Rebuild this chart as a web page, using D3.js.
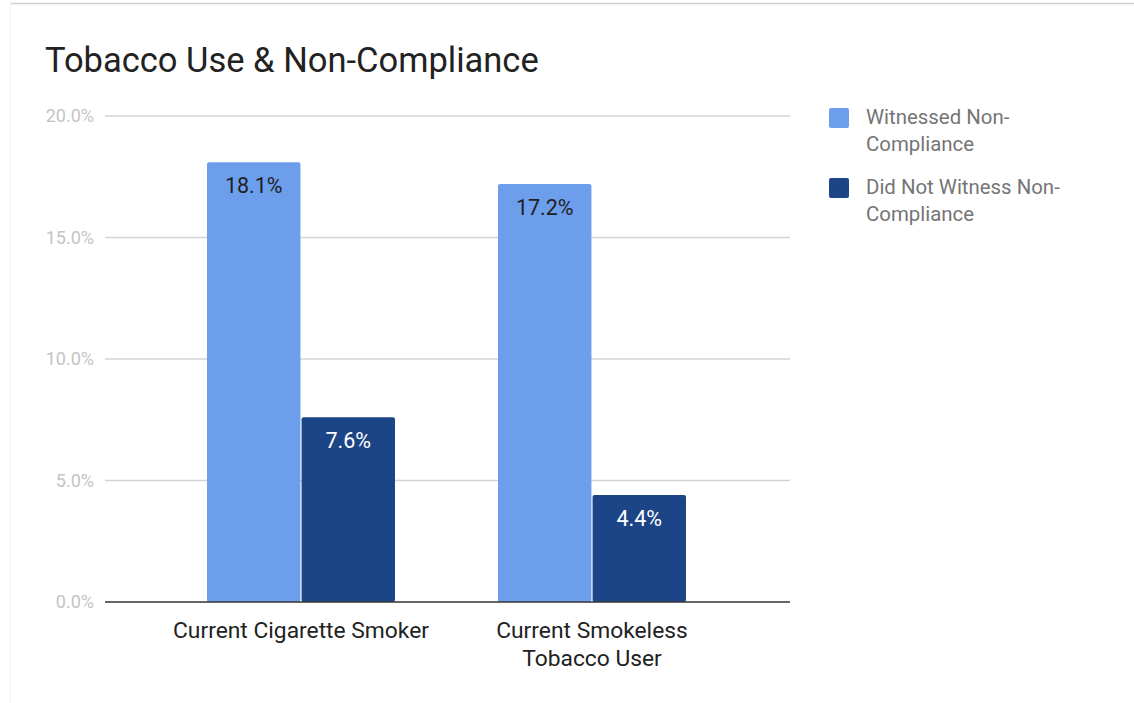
<!DOCTYPE html>
<meta charset="utf-8">
<script src="https://d3js.org/d3.v7.min.js"></script>
<style>
  body { margin: 0; background: #fff; }
  text { font-family: Roboto, "Noto Sans", sans-serif; }
</style>
<div id="chart"></div>
<script>

// data
var categories = [["Current Cigarette Smoker"], ["Current Smokeless", "Tobacco User"]];
var seriesNames = ["Witnessed Non-Compliance", "Did Not Witness Non-Compliance"];
var legendLines = [["Witnessed Non-", "Compliance"], ["Did Not Witness Non-", "Compliance"]];
var witnessed = [18.1, 17.2];
var notWitnessed = [7.6, 4.4];
var yTicks = [0, 5, 10, 15, 20];

var colors = ["#6d9eeb", "#1c4587"];
var labelColors = ["#1f1f1f", "#ffffff"];

var W = 1134, H = 703;
var plot = {left: 105, right: 790, top: 116, bottom: 602};

var svg = d3.select("#chart")
  .append("svg")
    .attr("width", W)
    .attr("height", H);

// card border
svg.append("line")
  .attr("x1", 10).attr("x2", W).attr("y1", 3.5).attr("y2", 3.5)
  .attr("stroke", "#cfcfcf").attr("stroke-width", 1.5);
svg.append("line")
  .attr("x1", 10.5).attr("x2", 10.5).attr("y1", 3).attr("y2", H)
  .attr("stroke", "#f2f2f2");

// title
svg.append("text")
  .attr("x", 45)
  .attr("y", 72)
  .style("font-size", "34.5px")
  .style("fill", "#222")
  .text("Tobacco Use & Non-Compliance");

var y = d3.scaleLinear()
  .domain([0, 20])
  .range([plot.bottom, plot.top]);

var x0 = d3.scaleBand()
  .domain(d3.range(categories.length))
  .range([plot.left - 1, plot.right - 1])
  .padding(0.354);

var x1 = d3.scaleBand()
  .domain(d3.range(seriesNames.length))
  .range([0, x0.bandwidth()])
  .paddingInner(0.012);

// gridlines
svg.append("g")
  .selectAll("line")
  .data(yTicks.filter(function(d){ return d > 0; }))
  .enter()
  .append("line")
    .attr("x1", plot.left)
    .attr("x2", plot.right)
    .attr("y1", function(d){ return y(d); })
    .attr("y2", function(d){ return y(d); })
    .attr("stroke", "#d4d4d4")
    .attr("stroke-width", 1.5);

// y labels
svg.append("g")
  .selectAll("text")
  .data(yTicks)
  .enter()
  .append("text")
    .attr("x", 94)
    .attr("y", function(d){ return y(d); })
    .attr("dy", "0.35em")
    .attr("text-anchor", "end")
    .style("font-size", "18px")
    .style("fill", "#c4c4c4")
    .text(function(d){ return d.toFixed(1) + "%"; });

// bars
var values = [witnessed, notWitnessed];
var bars = [];
categories.forEach(function(c, i) {
  values.forEach(function(v, s) {
    bars.push({cat: i, s: s, v: v[i]});
  });
});

svg.append("g")
  .selectAll("rect")
  .data(bars)
  .enter()
  .append("rect")
    .attr("x", function(d){ return x0(d.cat) + x1(d.s); })
    .attr("y", function(d){ return y(d.v); })
    .attr("width", x1.bandwidth())
    .attr("height", function(d){ return y(0) - y(d.v); })
    .attr("rx", 2)
    .style("fill", function(d){ return colors[d.s]; });

// bar labels
svg.append("g")
  .selectAll("text")
  .data(bars)
  .enter()
  .append("text")
    .attr("x", function(d){ return x0(d.cat) + x1(d.s) + x1.bandwidth() / 2; })
    .attr("y", function(d){ return y(d.v) + 31; })
    .attr("text-anchor", "middle")
    .style("font-size", "21.5px")
    .style("fill", function(d){ return labelColors[d.s]; })
    .text(function(d){ return d.v.toFixed(1) + "%"; });

// baseline
svg.append("line")
  .attr("x1", plot.left).attr("x2", plot.right)
  .attr("y1", y(0)).attr("y2", y(0))
  .attr("stroke", "#333")
  .attr("stroke-width", 1.5);

// x labels
var xl = svg.append("g")
  .selectAll("text")
  .data(categories)
  .enter()
  .append("text")
    .attr("x", function(d, i){ return x0(i) + x0.bandwidth() / 2; })
    .attr("y", 638)
    .attr("text-anchor", "middle")
    .style("font-size", "22.8px")
    .style("fill", "#222");
xl.selectAll("tspan")
  .data(function(d){ return d; })
  .enter()
  .append("tspan")
    .attr("x", function(){ return d3.select(this.parentNode).attr("x"); })
    .attr("dy", function(d, j){ return j === 0 ? 0 : 28; })
    .text(function(d){ return d; });

// legend
var leg = svg.append("g")
  .selectAll("g")
  .data(seriesNames)
  .enter()
  .append("g")
    .attr("transform", function(d, i){ return "translate(829," + (108 + i * 70) + ")"; });

leg.append("rect")
  .attr("width", 20)
  .attr("height", 20)
  .attr("rx", 2)
  .style("fill", function(d, i){ return colors[i]; });

leg.append("text")
  .attr("x", 37)
  .attr("y", 16)
  .style("font-size", "20.4px")
  .style("fill", "#757575")
  .selectAll("tspan")
  .data(function(d, i){ return legendLines[i]; })
  .enter()
  .append("tspan")
    .attr("x", 37)
    .attr("dy", function(d, j){ return j === 0 ? 0 : 27; })
    .text(function(d){ return d; });

</script>
